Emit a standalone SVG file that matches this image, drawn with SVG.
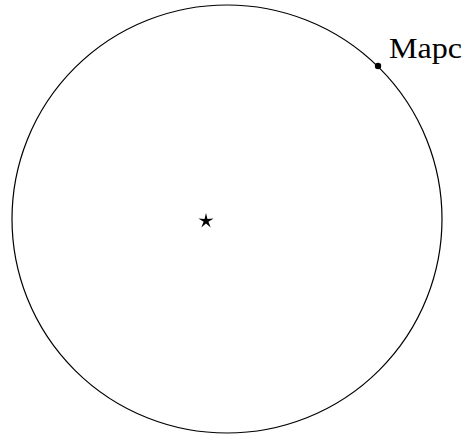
<svg xmlns="http://www.w3.org/2000/svg" width="466" height="436" viewBox="0 0 466 436">
<style>
.orbit{fill:none;stroke:#000;stroke-width:1.2}
.lbl{font-family:"Liberation Serif","DejaVu Serif",serif;font-size:29px;fill:#000}
</style>
<rect width="466" height="436" fill="#fff"/>
<g id="orbit">
<ellipse class="orbit" cx="227" cy="219" rx="215" ry="214"/>
</g>
<g id="sun">
<polygon fill="#000" points="206,213 207.47,218.98 213.61,218.53 208.38,221.77 210.7,227.47 206,223.5 201.3,227.47 203.62,221.77 198.39,218.53 204.53,218.98"/>
</g>
<g id="mars">
<circle cx="378" cy="66" r="3.2" fill="#000"/>
<text class="lbl" x="389" y="58" textLength="73" lengthAdjust="spacingAndGlyphs">Марс</text>
</g>
</svg>
